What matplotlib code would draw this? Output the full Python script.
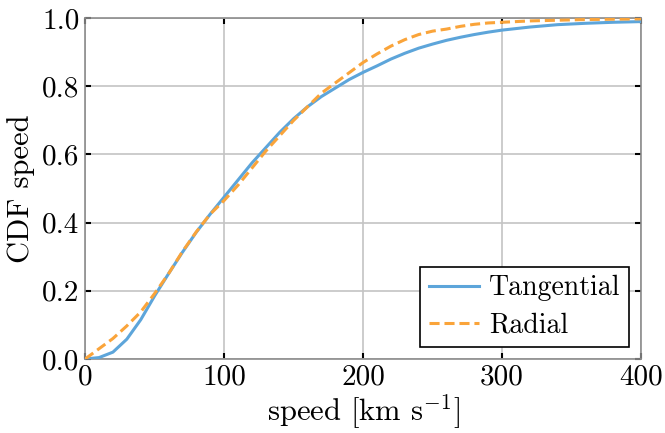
import matplotlib
matplotlib.use("Agg")
import matplotlib.pyplot as plt

speed = [0, 10, 20, 30, 40, 50, 60, 70, 80, 90, 100, 110, 120, 130, 140, 150,
         160, 170, 180, 190, 200, 210, 220, 230, 240, 250, 260, 270, 280, 290,
         300, 320, 340, 360, 380, 400]
cdf_tangential = [0.0, 0.004, 0.02, 0.058, 0.115, 0.185, 0.25, 0.313, 0.372, 0.425,
                  0.475, 0.525, 0.575, 0.62, 0.665, 0.705, 0.74, 0.77, 0.795, 0.82,
                  0.841, 0.86, 0.88, 0.897, 0.912, 0.924, 0.935, 0.944, 0.952, 0.959,
                  0.965, 0.974, 0.981, 0.985, 0.988, 0.990]
cdf_radial = [0.0, 0.03, 0.06, 0.097, 0.138, 0.192, 0.25, 0.315, 0.373, 0.425,
              0.465, 0.51, 0.56, 0.61, 0.655, 0.70, 0.74, 0.78, 0.81, 0.84,
              0.87, 0.895, 0.918, 0.937, 0.952, 0.962, 0.968, 0.976, 0.982, 0.986,
              0.988, 0.992, 0.994, 0.996, 0.997, 0.998]
x_ticks = [0, 100, 200, 300, 400]
y_ticks = [0.0, 0.2, 0.4, 0.6, 0.8, 1.0]

plt.rcParams['font.family'] = ['cmr10', 'DejaVu Serif']
plt.rcParams['mathtext.fontset'] = 'cm'
plt.rcParams['axes.formatter.use_mathtext'] = True

fig = plt.figure(figsize=(6.65, 4.33), dpi=100)
ax = fig.add_axes([0.128, 0.171, 0.836, 0.787])

ax.plot(speed, cdf_tangential, color='#5DA5DA', lw=2.2, label='Tangential', zorder=3)
ax.plot(speed, cdf_radial, color='#FAA43A', lw=2.2, ls=(0, (3.3, 1.6)),
        label='Radial', zorder=3)

ax.set_xlim(0, 400)
ax.set_ylim(0, 1)
ax.set_xticks(x_ticks)
ax.set_yticks(y_ticks)
ax.set_xticklabels([str(t) for t in x_ticks])
ax.set_yticklabels([f"{t:.1f}" for t in y_ticks])
ax.grid(True, color='#c4c4c4', lw=1.2)
ax.set_axisbelow(True)
for s in ax.spines.values():
    s.set_color('#8c8c8c')
    s.set_linewidth(1.2)
ax.tick_params(direction='in', length=4, width=1.5, color='black',
               top=True, right=True, labelsize=21, pad=4)

ax.set_xlabel(r'speed [km s$^{-1}$]', fontsize=22, labelpad=1)
ax.set_ylabel('CDF speed', fontsize=22, labelpad=5)

leg = ax.legend(loc='lower right', fontsize=20, fancybox=False, framealpha=1,
                edgecolor='black', borderpad=0.3, handlelength=1.83,
                handletextpad=0.36, labelspacing=0.4, borderaxespad=0.43)
leg.get_frame().set_linewidth(1.2)

fig.savefig('out.png', dpi=100)
